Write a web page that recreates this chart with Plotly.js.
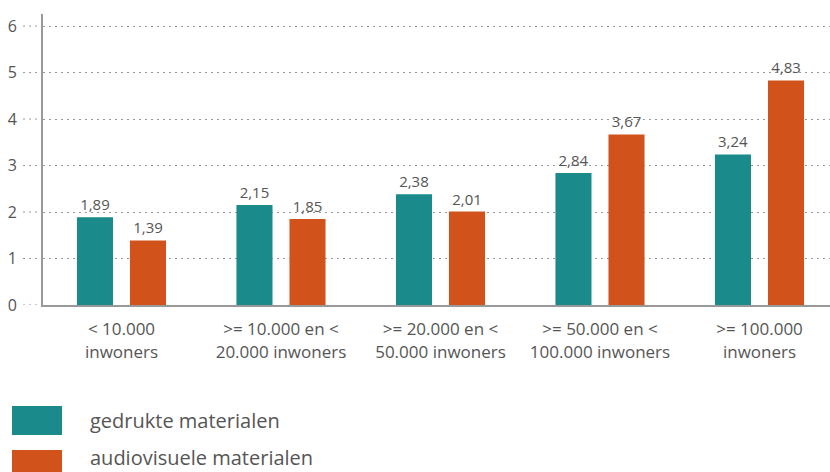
<!DOCTYPE html>
<html><head><meta charset="utf-8">
<script src="https://cdn.plot.ly/plotly-3.0.1.min.js"></script>
<style>html,body{margin:0;padding:0;background:#fff}#chart{width:830px;height:472px}</style>
</head><body><div id="chart"></div>
<script>
const categories = ["< 10.000<br>inwoners", ">= 10.000 en <<br>20.000 inwoners", ">= 20.000 en <<br>50.000 inwoners", ">= 50.000 en <<br>100.000 inwoners", ">= 100.000<br>inwoners"];
const seriesNames = ["gedrukte materialen", "audiovisuele materialen"];
const gedrukt = [1.89, 2.15, 2.38, 2.84, 3.24];
const audiovisueel = [1.39, 1.85, 2.01, 3.67, 4.83];
const yTicks = [0, 1, 2, 3, 4, 5, 6];
const colors = ["#1b8a8a", "#d1521b"];
const FONT = "Open Sans, sans-serif";
const txtColor = "#555";

const idx = categories.map((_, i) => i);
const traces = [gedrukt, audiovisueel].map((vals, k) => ({
  type: "bar", x: idx, y: vals, name: seriesNames[k],
  marker: {color: colors[k]},
  texttemplate: "%{y:.2f}", textposition: "outside", cliponaxis: false,
  textfont: {family: FONT, size: 15, color: txtColor},
  hoverinfo: "skip", showlegend: false
}));

const plotW = 830 - 43, plotH = 291, plotBottom = 305;
const shapes = yTicks.map(v => ({
  type: "line", xref: "paper", yref: "y", x0: -20 / plotW, x1: 0, y0: v, y1: v,
  line: {color: "#999", width: 1, dash: "2px,4px"}
}));
const annotations = [];
const legendTops = [406, 450], legendTextY = [420, 457];
seriesNames.forEach((n, k) => {
  const yTop = legendTops[k];
  shapes.push({type: "rect", xref: "paper", yref: "paper",
    x0: (12 - 43) / plotW, x1: (62 - 43) / plotW,
    y0: (plotBottom - (yTop + 29)) / plotH, y1: (plotBottom - yTop) / plotH,
    fillcolor: colors[k], line: {width: 0}});
  annotations.push({xref: "paper", yref: "paper", x: (88 - 43) / plotW,
    y: (plotBottom - legendTextY[k]) / plotH, xanchor: "left", yanchor: "middle",
    text: n, showarrow: false, font: {family: FONT, size: 20, color: txtColor}});
});

const layout = {
  width: 830, height: 472,
  margin: {l: 43, r: 0, t: 14, b: 167},
  paper_bgcolor: "#fff", plot_bgcolor: "#fff",
  separators: ",.",
  barmode: "group", bargap: 0.335, bargroupgap: 0.32,
  font: {family: FONT, color: txtColor},
  xaxis: {
    range: [-0.492, 4.442], tickvals: idx, ticktext: categories,
    showline: true, linecolor: "#999", linewidth: 2, showgrid: false, zeroline: false,
    ticks: "", ticklabelstandoff: 8,
    tickfont: {family: FONT, size: 17, color: txtColor}, fixedrange: true
  },
  yaxis: {
    range: [0, 6.26], tickvals: yTicks, ticktext: yTicks.map(String),
    showline: true, linecolor: "#999", linewidth: 2, zeroline: false,
    showgrid: true, gridcolor: "#999", gridwidth: 1, griddash: "2px,4px",
    ticks: "", ticklabelstandoff: 21,
    tickfont: {family: FONT, size: 16, color: txtColor}, fixedrange: true
  },
  shapes: shapes, annotations: annotations
};
Plotly.newPlot("chart", traces, layout, {displayModeBar: false, staticPlot: true});
</script></body></html>
